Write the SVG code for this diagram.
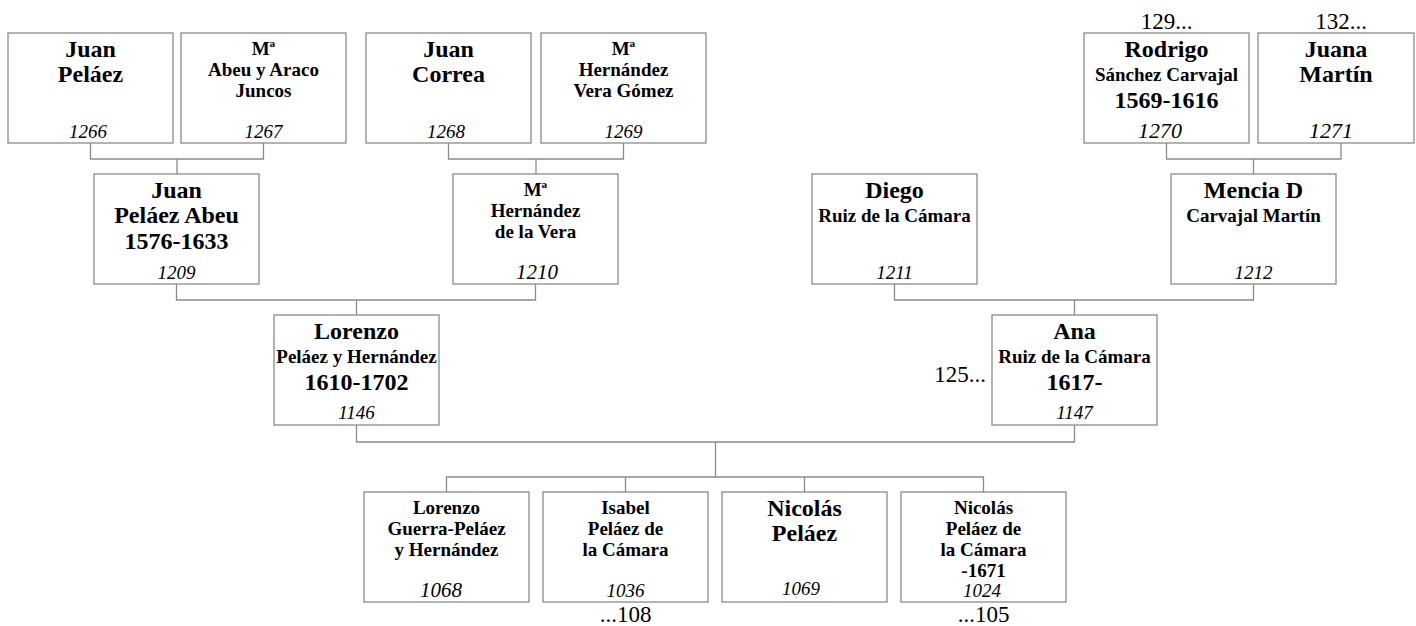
<svg xmlns="http://www.w3.org/2000/svg" width="1416" height="626" viewBox="0 0 1416 626">
<style>
text{font-family:"Liberation Serif","Times New Roman",serif;fill:#000;text-anchor:middle}
.box{fill:#fff;stroke:#8a8a8a;stroke-width:1.3}
.b{font-weight:bold;font-size:24px}
.s{font-weight:bold;font-size:19px}
.n{font-style:italic;font-size:19px}
.r{font-size:23px}
.con path{fill:none;stroke:#8a8a8a;stroke-width:1.3}
</style>
<rect width="1416" height="626" fill="#fff"/>
<g class="con">
<path d="M90.5 143V159H263.5V143M177 159V174"/>
<path d="M448.5 143V159H623.5V143M536 159V174"/>
<path d="M1166.5 143V159H1341V143M1253.5 159V174"/>
<path d="M176.5 284V300H535.5V284M356.5 300V315"/>
<path d="M894.5 284V300H1253.5V284M1074.5 300V315"/>
<path d="M356.5 425V442H1074.5V425M715.5 442V477"/>
<path d="M446.5 492V477H983.5V492M625.5 477V492M804.5 477V492"/>
</g>
<g id="n1266"><rect class="box" x="8" y="33" width="165" height="110"/><text class="b" x="90.5" y="57">Juan</text><text class="b" x="90.5" y="82">Peláez</text><text class="n" x="88" y="138">1266</text></g>
<g id="n1267"><rect class="box" x="181" y="33" width="165" height="110"/><text class="s" x="263.5" y="55">Mª</text><text class="s" x="263.5" y="76">Abeu y Araco</text><text class="s" x="263.5" y="97">Juncos</text><text class="n" x="263.5" y="138">1267</text></g>
<g id="n1268"><rect class="box" x="366" y="33" width="165" height="110"/><text class="b" x="448.5" y="57">Juan</text><text class="b" x="448.5" y="82">Correa</text><text class="n" x="446" y="138">1268</text></g>
<g id="n1269"><rect class="box" x="541" y="33" width="165" height="110"/><text class="s" x="623.5" y="55">Mª</text><text class="s" x="623.5" y="76">Hernández</text><text class="s" x="623.5" y="97">Vera Gómez</text><text class="n" x="623.5" y="138">1269</text></g>
<g id="n1270"><text class="r" x="1166.5" y="29">129...</text><rect class="box" x="1084" y="33" width="165" height="110"/><text class="b" x="1166.5" y="57">Rodrigo</text><text class="s" x="1166.5" y="81">Sánchez Carvajal</text><text class="b" x="1166.5" y="108">1569-1616</text><text class="n" x="1160" y="138" style="font-size:22px">1270</text></g>
<g id="n1271"><text class="r" x="1341" y="29">132...</text><rect class="box" x="1258" y="33" width="156" height="110"/><text class="b" x="1336" y="57">Juana</text><text class="b" x="1336" y="82">Martín</text><text class="n" x="1331" y="138" style="font-size:22px">1271</text></g>
<g id="n1209"><rect class="box" x="94" y="174" width="165" height="110"/><text class="b" x="176.5" y="198">Juan</text><text class="b" x="176.5" y="223">Peláez Abeu</text><text class="b" x="176.5" y="249">1576-1633</text><text class="n" x="176.5" y="279">1209</text></g>
<g id="n1210"><rect class="box" x="453" y="174" width="165" height="110"/><text class="s" x="535.5" y="196">Mª</text><text class="s" x="535.5" y="217">Hernández</text><text class="s" x="535.5" y="238">de la Vera</text><text class="n" x="537" y="279" style="font-size:21px">1210</text></g>
<g id="n1211"><rect class="box" x="812" y="174" width="165" height="110"/><text class="b" x="894.5" y="198">Diego</text><text class="s" x="894.5" y="222">Ruiz de la Cámara</text><text class="n" x="894.5" y="279">1211</text></g>
<g id="n1212"><rect class="box" x="1171" y="174" width="165" height="110"/><text class="b" x="1253.5" y="198">Mencia D</text><text class="s" x="1253.5" y="222">Carvajal Martín</text><text class="n" x="1253.5" y="279">1212</text></g>
<g id="n1146"><rect class="box" x="274" y="315" width="165" height="110"/><text class="b" x="356.5" y="339">Lorenzo</text><text class="s" x="356.5" y="363">Peláez y Hernández</text><text class="b" x="356.5" y="390">1610-1702</text><text class="n" x="356.5" y="419">1146</text></g>
<g id="n1147"><text class="r" x="986" y="382" style="text-anchor:end">125...</text><rect class="box" x="992" y="315" width="165" height="110"/><text class="b" x="1074.5" y="339">Ana</text><text class="s" x="1074.5" y="363">Ruiz de la Cámara</text><text class="b" x="1074.5" y="390">1617-</text><text class="n" x="1074.5" y="419">1147</text></g>
<g id="n1068"><rect class="box" x="364" y="492" width="165" height="110"/><text class="s" x="446.5" y="514">Lorenzo</text><text class="s" x="446.5" y="535">Guerra-Peláez</text><text class="s" x="446.5" y="556">y Hernández</text><text class="n" x="441" y="597" style="font-size:21px">1068</text></g>
<g id="n1036"><rect class="box" x="543" y="492" width="165" height="110"/><text class="s" x="625.5" y="514">Isabel</text><text class="s" x="625.5" y="535">Peláez de</text><text class="s" x="625.5" y="556">la Cámara</text><text class="n" x="625.5" y="597">1036</text><text class="r" x="625.5" y="622">...108</text></g>
<g id="n1069"><rect class="box" x="722" y="492" width="165" height="110"/><text class="b" x="804.5" y="516">Nicolás</text><text class="b" x="804.5" y="541">Peláez</text><text class="n" x="801" y="595">1069</text></g>
<g id="n1024"><rect class="box" x="901" y="492" width="165" height="110"/><text class="s" x="983.5" y="514">Nicolás</text><text class="s" x="983.5" y="535">Peláez de</text><text class="s" x="983.5" y="556">la Cámara</text><text class="s" x="983.5" y="577">-1671</text><text class="n" x="982" y="597">1024</text><text class="r" x="983.5" y="622">...105</text></g>
</svg>
